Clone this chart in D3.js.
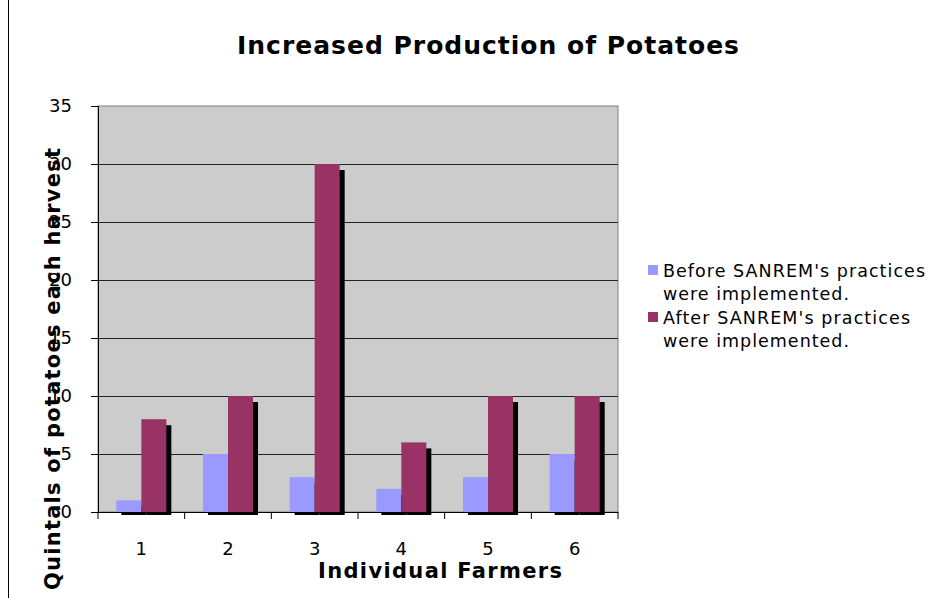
<!DOCTYPE html>
<html>
<head>
<meta charset="utf-8">
<script src="https://cdn.jsdelivr.net/npm/d3@7"></script>
<style>
  body { margin: 0; background: #fff; }
  svg { display: block; font-family: "DejaVu Sans", Verdana, sans-serif; }
</style>
</head>
<body>
<div id="chart"></div>
<script>
const width = 928, height = 598;

// data
const farmers = ["1", "2", "3", "4", "5", "6"];
const seriesNames = ["Before SANREM's practices were implemented.", "After SANREM's practices were implemented."];
const before = [1, 5, 3, 2, 3, 5];
const after = [8, 10, 30, 6, 10, 10];
const yTicks = [0, 5, 10, 15, 20, 25, 30, 35];
const colors = ["#9999ff", "#993366"];

const plot = { left: 98, right: 618, top: 106, bottom: 512 };

const svg = d3.select("#chart")
    .append("svg")
    .attr("width", width)
    .attr("height", height);

// frame line on the left
svg.append("line")
    .attr("x1", 8.5).attr("x2", 8.5)
    .attr("y1", 0).attr("y2", height)
    .attr("stroke", "#000");

const x = d3.scaleBand()
    .domain(farmers)
    .range([plot.left, plot.right]);

const xInner = d3.scaleBand()
    .domain([0, 1])
    .range([0, x.bandwidth()])
    .paddingOuter(0.733);

const y = d3.scaleLinear()
    .domain([0, 35])
    .range([plot.bottom, plot.top]);

// plot background
svg.append("rect")
    .attr("x", plot.left).attr("y", plot.top)
    .attr("width", plot.right - plot.left)
    .attr("height", plot.bottom - plot.top)
    .attr("fill", "#cccccc")
    .attr("stroke", "#808080");

// gridlines
svg.append("g")
    .selectAll("line")
    .data(yTicks.filter(d => d > 0 && d < 35))
    .enter()
    .append("line")
    .attr("x1", plot.left).attr("x2", plot.right)
    .attr("y1", d => Math.round(y(d)) + 0.5)
    .attr("y2", d => Math.round(y(d)) + 0.5)
    .attr("stroke", "#222");

const rows = farmers.map((f, i) => ({ farmer: f, values: [before[i], after[i]] }));

const groups = svg.append("g")
    .selectAll("g")
    .data(rows)
    .enter()
    .append("g")
    .attr("transform", d => `translate(${x(d.farmer)},0)`);

// shadows first
groups.selectAll(".shadow")
    .data(d => d.values)
    .enter()
    .append("rect")
    .attr("class", "shadow")
    .attr("x", (d, i) => xInner(i) + 5)
    .attr("y", d => y(d) + 6)
    .attr("width", xInner.bandwidth())
    .attr("height", d => plot.bottom + 3 - (y(d) + 6))
    .attr("fill", "#000");

groups.selectAll(".bar")
    .data(d => d.values)
    .enter()
    .append("rect")
    .attr("class", "bar")
    .attr("x", (d, i) => xInner(i))
    .attr("y", d => y(d))
    .attr("width", xInner.bandwidth())
    .attr("height", d => plot.bottom - y(d))
    .attr("fill", (d, i) => colors[i]);

// y axis
const yAxis = svg.append("g")
    .attr("transform", `translate(${plot.left},0)`)
    .call(d3.axisLeft(y).tickValues(yTicks).tickSize(7).tickPadding(19));
yAxis.select(".domain").attr("stroke", "#000");
yAxis.selectAll("text")
    .attr("font-size", 18)
    .attr("font-family", "DejaVu Sans, Verdana, sans-serif")
    .attr("fill", "#000");

// x axis
const xAxis = svg.append("g")
    .attr("transform", `translate(0,${plot.bottom})`)
    .call(d3.axisBottom(x).tickSize(0).tickPadding(30));
xAxis.select(".domain").attr("stroke", "#000");
xAxis.selectAll("text")
    .attr("font-size", 18)
    .attr("font-family", "DejaVu Sans, Verdana, sans-serif")
    .attr("fill", "#000");
xAxis.selectAll(".sep")
    .data(d3.range(farmers.length + 1))
    .enter()
    .append("line")
    .attr("class", "sep")
    .attr("x1", i => plot.left + i * x.bandwidth())
    .attr("x2", i => plot.left + i * x.bandwidth())
    .attr("y1", 0).attr("y2", 7)
    .attr("stroke", "#000");

// titles (Verdana-like spacing is wider than DejaVu, so stretch with textLength)
svg.append("text")
    .attr("x", 488).attr("y", 54)
    .attr("text-anchor", "middle")
    .attr("font-size", 25)
    .attr("font-weight", "bold")
    .attr("textLength", 502)
    .attr("lengthAdjust", "spacing")
    .text("Increased Production of Potatoes");

svg.append("text")
    .attr("x", 440).attr("y", 578)
    .attr("text-anchor", "middle")
    .attr("font-size", 21)
    .attr("font-weight", "bold")
    .attr("textLength", 244)
    .attr("lengthAdjust", "spacing")
    .text("Individual Farmers");

svg.append("text")
    .attr("transform", "translate(60,369) rotate(-90)")
    .attr("text-anchor", "middle")
    .attr("font-size", 21)
    .attr("font-weight", "bold")
    .attr("textLength", 442)
    .attr("lengthAdjust", "spacing")
    .text("Quintals of potatoes each harvest");

// legend
const legend = svg.append("g")
    .attr("transform", "translate(648,265)");
const items = legend.selectAll("g")
    .data(seriesNames)
    .enter()
    .append("g")
    .attr("transform", (d, i) => `translate(0,${i * 47})`);
items.append("rect")
    .attr("width", 10).attr("height", 10)
    .attr("fill", (d, i) => colors[i]);
items.append("text")
    .attr("x", 15).attr("y", 12)
    .attr("font-size", 17.5)
    .attr("textLength", (d, i) => i === 0 ? 262 : 247)
    .attr("lengthAdjust", "spacing")
    .text(d => d.split(" were")[0]);
items.append("text")
    .attr("x", 15).attr("y", 35)
    .attr("font-size", 17.5)
    .attr("textLength", 186)
    .attr("lengthAdjust", "spacing")
    .text("were implemented.");
</script>
</body>
</html>
